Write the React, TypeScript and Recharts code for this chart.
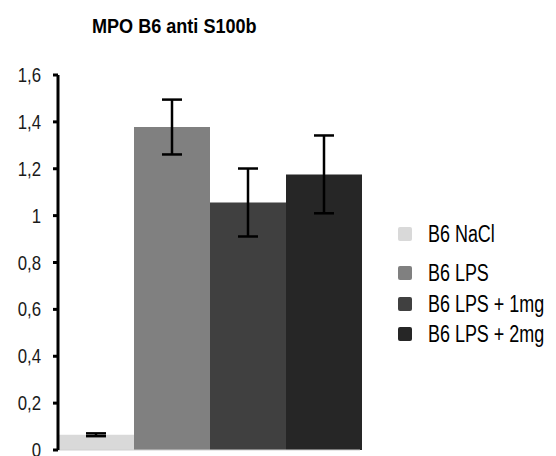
import { BarChart, Bar, XAxis, YAxis, ErrorBar } from 'recharts'

const groups = ['B6 NaCl', 'B6 LPS', 'B6 LPS + 1mg', 'B6 LPS + 2mg']
const means = [0.065, 1.378, 1.056, 1.176]
const errors = [0.006, 0.117, 0.145, 0.166]
const yTicks = [0, 0.2, 0.4, 0.6, 0.8, 1, 1.2, 1.4, 1.6]

const COLORS = ['#d9d9d9', '#808080', '#404040', '#262626']
const FONT = "'Liberation Sans', Arial, sans-serif"
// reference uses a narrow face, squeeze the regular one
const NARROW = 0.8

// one category, four bars side by side
const row: Record<string, number | string> = { name: '' }
groups.forEach((g, i) => {
  row[`v${i}`] = means[i]
  row[`e${i}`] = errors[i]
})
const data = [row]

function YTick({ x, y, payload }: any) {
  return (
    <g transform={`translate(${x},${y}) scale(${NARROW},1)`}>
      <text x={0} y={0} dy={7} textAnchor="end" fontSize={21} fill="#1a1a1a" fontFamily={FONT}>
        {String(payload.value).replace('.', ',')}
      </text>
    </g>
  )
}

const legendTops = [222, 261, 292, 322]

export default function App() {
  return (
    <div style={{ position: 'absolute', left: 0, top: 0, width: 556, height: 456, background: '#fff' }}>
      <div
        style={{
          position: 'absolute',
          left: 92,
          top: 14,
          fontFamily: FONT,
          fontWeight: 'bold',
          fontSize: 21,
          color: '#000',
          transform: 'scaleX(0.86)',
          transformOrigin: 'left top',
          whiteSpace: 'nowrap',
        }}
      >
        MPO B6 anti S100b
      </div>
      <BarChart
        width={556}
        height={456}
        data={data}
        margin={{ top: 75, right: 196, bottom: 5, left: 0 }}
        barCategoryGap={0}
        barGap={0}
      >
        <XAxis
          dataKey="name"
          height={1}
          tick={false}
          tickLine={false}
          axisLine={{ stroke: '#cfcfcf', strokeWidth: 1 }}
        />
        <YAxis
          width={58}
          domain={[0, 1.6]}
          ticks={yTicks}
          interval={0}
          tickSize={5}
          tickMargin={12}
          tick={<YTick />}
          axisLine={{ stroke: '#000', strokeWidth: 3 }}
          tickLine={{ stroke: '#000', strokeWidth: 3 }}
        />
        {groups.map((g, i) => (
          <Bar key={g} dataKey={`v${i}`} name={g} fill={COLORS[i]} isAnimationActive={false}>
            <ErrorBar dataKey={`e${i}`} width={10} strokeWidth={2.5} stroke="#000" direction="y" />
          </Bar>
        ))}
      </BarChart>
      {groups.map((g, i) => (
        <div
          key={g}
          style={{
            position: 'absolute',
            left: 398,
            top: legendTops[i],
            height: 24,
            display: 'flex',
            alignItems: 'center',
            fontFamily: FONT,
            whiteSpace: 'nowrap',
          }}
        >
          <span
            style={{
              display: 'inline-block',
              width: 14,
              height: 14,
              borderRadius: 2,
              background: COLORS[i],
              marginRight: 16,
            }}
          />
          <span
            style={{
              display: 'inline-block',
              fontSize: 23,
              color: '#000',
              transform: 'scaleX(0.78)',
              transformOrigin: 'left center',
            }}
          >
            {g}
          </span>
        </div>
      ))}
    </div>
  )
}
